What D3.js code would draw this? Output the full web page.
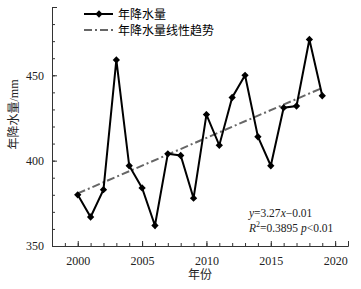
<!DOCTYPE html>
<html>
<head>
<meta charset="utf-8">
<script src="https://cdn.jsdelivr.net/npm/d3@7"></script>
<style>
  body { margin: 0; background: #fff; }
  text { font-family: "Liberation Serif", "Noto Sans CJK SC", serif; }
</style>
</head>
<body>
<div id="chart"></div>
<script>
// 年降水量 data
const years = [2000, 2001, 2002, 2003, 2004, 2005, 2006, 2007, 2008, 2009,
               2010, 2011, 2012, 2013, 2014, 2015, 2016, 2017, 2018, 2019];
const precip = [380, 367, 383, 459, 397, 384, 362, 404, 403, 378,
                427, 409, 437, 450, 414, 397, 431, 432, 471, 438];
const trendYears = [2000, 2019];
const trendValues = [380.8, 442.6];
const xMajorTicks = [2000, 2005, 2010, 2015, 2020];
const yMajorTicks = [350, 400, 450];

const W = 361, H = 289;
const margin = { top: 7, right: 13, bottom: 43, left: 52 };
const width = W - margin.left - margin.right;
const height = H - margin.top - margin.bottom;

const svg = d3.select("#chart").append("svg")
  .attr("width", W).attr("height", H);
const g = svg.append("g")
  .attr("transform", `translate(${margin.left},${margin.top})`);

const x = d3.scaleLinear().domain([1998, 2021]).range([0, width]);
const y = d3.scaleLinear().domain([350, 490]).range([height, 0]);

// minor ticks (inward)
g.append("g")
  .attr("transform", `translate(0,${height})`)
  .call(d3.axisBottom(x).tickValues(d3.range(1999, 2022)).tickSize(-3).tickFormat(""))
  .call(a => a.select(".domain").remove())
  .selectAll("line").attr("stroke", "#333");
g.append("g")
  .call(d3.axisLeft(y).tickValues(d3.range(360, 491, 10)).tickSize(-3).tickFormat(""))
  .call(a => a.select(".domain").remove())
  .selectAll("line").attr("stroke", "#333");

// major axes
const xAxis = g.append("g")
  .attr("transform", `translate(0,${height})`)
  .call(d3.axisBottom(x).tickValues(xMajorTicks).tickSize(-5).tickPadding(10).tickFormat(d3.format("d")));
const yAxis = g.append("g")
  .call(d3.axisLeft(y).tickValues(yMajorTicks).tickSize(-5).tickPadding(8));
[xAxis, yAxis].forEach(a => {
  a.select(".domain").attr("stroke", "#333");
  a.selectAll("line").attr("stroke", "#333");
  a.selectAll("text").attr("font-size", 12).attr("fill", "#222")
    .attr("font-family", "Liberation Serif");
});

// trend line
const line = d3.line().x(d => x(d[0])).y(d => y(d[1]));
g.append("path")
  .datum(trendYears.map((t, i) => [t, trendValues[i]]))
  .attr("d", line)
  .attr("fill", "none")
  .attr("stroke", "#666")
  .attr("stroke-width", 2)
  .attr("stroke-dasharray", "8,3,2,3");

// data line
g.append("path")
  .datum(years.map((t, i) => [t, precip[i]]))
  .attr("d", line)
  .attr("fill", "none")
  .attr("stroke", "#000")
  .attr("stroke-width", 2)
  .attr("stroke-linejoin", "miter");

const diamond = d3.symbol().type(d3.symbolDiamond2).size(34);
g.selectAll(".pt")
  .data(years.map((t, i) => [t, precip[i]]))
  .enter().append("path")
  .attr("class", "pt")
  .attr("d", diamond)
  .attr("transform", d => `translate(${x(d[0])},${y(d[1])})`)
  .attr("fill", "#000");

// annotation
const ann = g.append("g").attr("font-size", 11.5).attr("fill", "#222");
const t1 = ann.append("text").attr("x", x(2013.3)).attr("y", y(367));
t1.append("tspan").attr("font-style", "italic").text("y");
t1.append("tspan").text("=3.27");
t1.append("tspan").attr("font-style", "italic").text("x");
t1.append("tspan").text("\u22120.01");
const t2 = ann.append("text").attr("x", x(2013.3)).attr("y", y(358.2));
t2.append("tspan").attr("font-style", "italic").text("R");
t2.append("tspan").attr("font-size", 8).attr("dy", -5).text("2");
t2.append("tspan").attr("dy", 5).text("=0.3895 ");
t2.append("tspan").attr("font-style", "italic").text("p");
t2.append("tspan").text("<0.01");

// legend
const legend = svg.append("g").attr("transform", "translate(84,14)");
legend.append("line").attr("x1", 0).attr("x2", 29).attr("y1", 0).attr("y2", 0)
  .attr("stroke", "#000").attr("stroke-width", 2);
legend.append("path").attr("d", diamond).attr("transform", "translate(15,0)").attr("fill", "#000");
legend.append("text").attr("x", 34).attr("y", 4.5).attr("font-size", 12)
  .attr("font-family", "Noto Sans CJK SC").text("年降水量");
legend.append("line").attr("x1", 0).attr("x2", 29).attr("y1", 16).attr("y2", 16)
  .attr("stroke", "#666").attr("stroke-width", 2).attr("stroke-dasharray", "8,3,2,3");
legend.append("text").attr("x", 34).attr("y", 20.5).attr("font-size", 12)
  .attr("font-family", "Noto Sans CJK SC").text("年降水量线性趋势");

// axis titles
svg.append("text")
  .attr("transform", `translate(18,${margin.top + height / 2 - 12}) rotate(-90)`)
  .attr("text-anchor", "middle")
  .attr("font-size", 12)
  .attr("fill", "#222")
  .text("年降水量/mm");
svg.append("text")
  .attr("x", margin.left + width / 2)
  .attr("y", 279)
  .attr("text-anchor", "middle")
  .attr("font-size", 12)
  .attr("fill", "#222")
  .text("年份");
</script>
</body>
</html>
